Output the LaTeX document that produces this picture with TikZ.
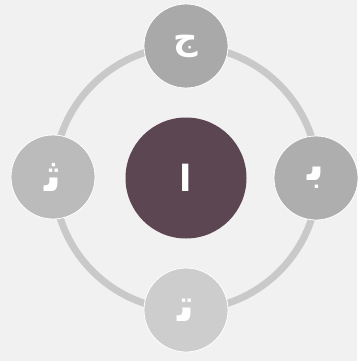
\documentclass[tikz,border=0pt]{standalone}
\usepackage{fontspec}
\newfontfamily\arabicfont[Script=Arabic]{DejaVu Sans}
\TeXXeTstate=1
\definecolor{bgc}{HTML}{F1F1F1}
\definecolor{ringc}{HTML}{C9C9C9}
\definecolor{topc}{HTML}{A9A9A9}
\definecolor{rightc}{HTML}{AEAEAE}
\definecolor{leftc}{HTML}{BBBBBB}
\definecolor{botc}{HTML}{CDCDCD}
\definecolor{centc}{HTML}{5B4651}
\tikzset{
  letter/.style={circle, minimum size=84pt, inner sep=0pt, draw=white, line width=0.8pt,
    text=white, font=\arabicfont\bfseries\fontsize{46}{46}\selectfont},
  core/.style={circle, minimum size=121pt, inner sep=0pt, fill=centc,
    text=white, font=\arabicfont\bfseries\fontsize{36}{36}\selectfont}
}
\begin{document}
\begin{tikzpicture}[x=1pt,y=-1pt]
\fill[bgc] (0,0) rectangle (357,361);
\useasboundingbox (0,0) rectangle (357,361);
\node[core] (c) at (186,178) {\beginR ا\endR};
\draw[ringc, line width=7pt] (c.center) circle (132);
\node[letter, fill=topc, font=\arabicfont\bfseries\fontsize{34}{34}\selectfont] (t) at (186,46) {\beginR ج\endR};
\node[letter, fill=rightc] (r) at (316,178) {\beginR ب‍\endR};
\node[letter, fill=botc] (b) at (186,310) {\beginR ت‍\endR};
\node[letter, fill=leftc] (l) at (53,177) {\beginR ث‍\endR};
\end{tikzpicture}
\end{document}
